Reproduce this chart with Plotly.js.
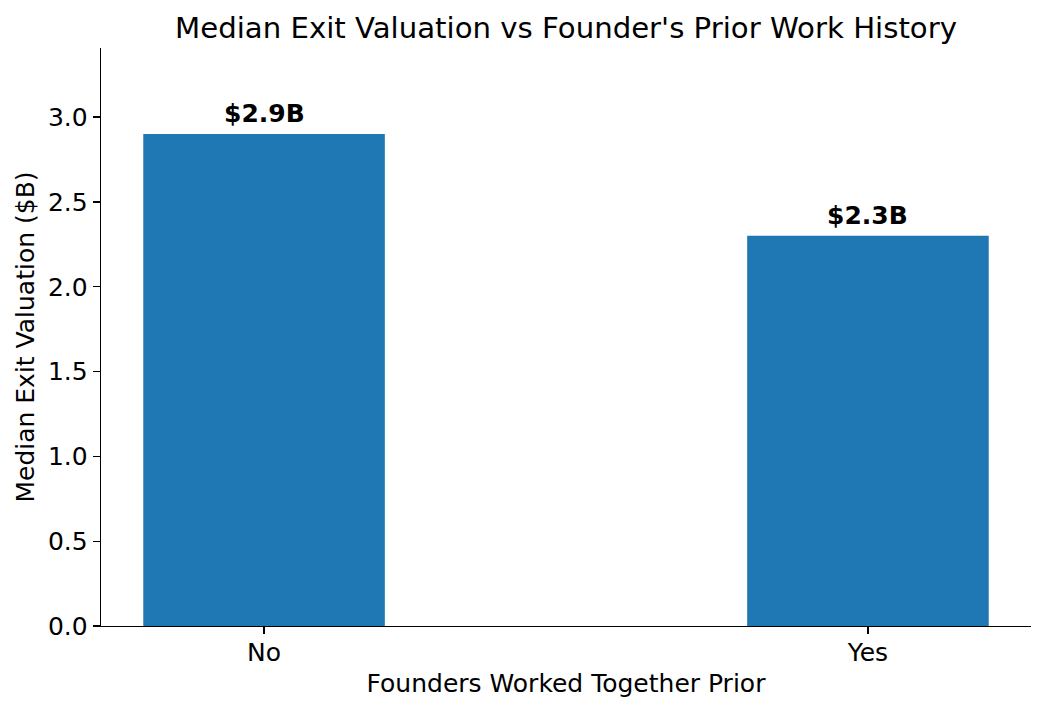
<!DOCTYPE html>
<html>
<head>
<meta charset="utf-8">
<script src="https://cdn.plot.ly/plotly-3.0.1.min.js"></script>
<style>html,body{margin:0;padding:0;background:#fff;}#chart{width:1046px;height:712px;}</style>
</head>
<body>
<div id="chart"></div>
<script>
const categories = ["No", "Yes"];
const medianValuation = [2.9, 2.3];
const valueLabels = ["$2.9B", "$2.3B"];

const FONT = "DejaVu Sans";
const trace = {
  type: "bar",
  x: categories,
  y: medianValuation,
  marker: {color: "#1f77b4", line: {width: 0}},
  hoverinfo: "skip"
};

const annotations = categories.map((c, i) => ({
  x: c, y: medianValuation[i], xref: "x", yref: "y",
  text: "<b>" + valueLabels[i] + "</b>",
  showarrow: false, yanchor: "bottom", yshift: 4,
  font: {family: FONT, size: 25, color: "#000"}
}));

const layout = {
  width: 1046, height: 712,
  margin: {l: 101, r: 15, t: 48, b: 86},
  paper_bgcolor: "#fff", plot_bgcolor: "#fff",
  bargap: 0.6,
  showlegend: false,
  font: {family: FONT, color: "#000"},
  title: {text: "Median Exit Valuation vs Founder's Prior Work History",
    font: {family: FONT, size: 29.2, color: "#000"},
    x: 566/1046, xanchor: "center", xref: "container",
    y: 1 - 28/712, yanchor: "middle", yref: "container"},
  xaxis: {
    type: "category", range: [-0.27, 1.27],
    showline: true, linecolor: "#000", linewidth: 1.3,
    ticks: "outside", ticklen: 7, tickwidth: 1.3, tickcolor: "#000",
    ticklabelstandoff: -3,
    tickfont: {family: FONT, size: 25, color: "#000"},
    showgrid: false, zeroline: false,
    title: {text: "Founders Worked Together Prior", font: {family: FONT, size: 25, color: "#000"}, standoff: 8},
    automargin: false
  },
  yaxis: {
    range: [0, 3.4075], dtick: 0.5, tick0: 0, tickformat: ".1f",
    showline: true, linecolor: "#000", linewidth: 1.3,
    ticks: "outside", ticklen: 7, tickwidth: 1.3, tickcolor: "#000",
    tickfont: {family: FONT, size: 25, color: "#000"},
    showgrid: false, zeroline: false,
    title: {text: "Median Exit Valuation ($B)", font: {family: FONT, size: 25, color: "#000"}, standoff: 6},
    automargin: false
  },
  annotations: annotations
};

Plotly.newPlot("chart", [trace], layout, {displayModeBar: false, staticPlot: true});
</script>
</body>
</html>
